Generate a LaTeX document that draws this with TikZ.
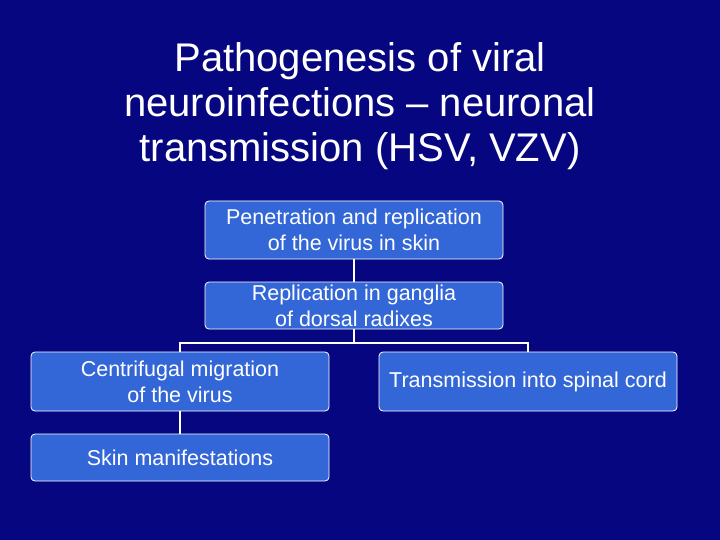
\documentclass[tikz,border=0pt]{standalone}
\usepackage{fontspec}
\setmainfont{Liberation Sans}
\definecolor{bg}{RGB}{6,6,128}
\definecolor{boxc}{RGB}{51,102,214}
\begin{document}
\begin{tikzpicture}[x=1pt,y=-1pt,
  bx/.style={draw=white,line width=0.8pt,fill=boxc,rounded corners=4pt,text=white,
    minimum width=298pt,align=center,font=\fontsize{21.5}{26}\selectfont,inner sep=0pt},
  ln/.style={draw=white,line width=1.2pt}]
\fill[bg] (0,0) rectangle (720,540);
\useasboundingbox (0,0) rectangle (720,540);
\node[text=white,align=center,font=\fontsize{40}{45}\selectfont] (t) at (360,106)
  {Pathogenesis of viral\\neuroinfections -- neuronal\\transmission (HSV, VZV)};
\node[bx,minimum height=58pt] (b1) at (354,230) {Penetration and replication\\of the virus in skin};
\node[bx,minimum height=47pt] (b2) at (354,305.5) {Replication in ganglia\\of dorsal radixes};
\node[bx,minimum height=59pt] (b3) at (180,381.5) {Centrifugal migration\\of the virus};
\node[bx,minimum height=59pt] (b4) at (528,381.5) {Transmission into spinal cord};
\node[bx,minimum height=47pt] (b5) at (180,457.5) {Skin manifestations};
\draw[ln] (b1.south) -- (b2.north);
\coordinate (m) at (354,343);
\draw[ln] (b2.south) -- (m);
\draw[ln] (b3.north) |- (m) -| (b4.north);
\draw[ln] (b3.south) -- (b5.north);
\end{tikzpicture}
\end{document}
